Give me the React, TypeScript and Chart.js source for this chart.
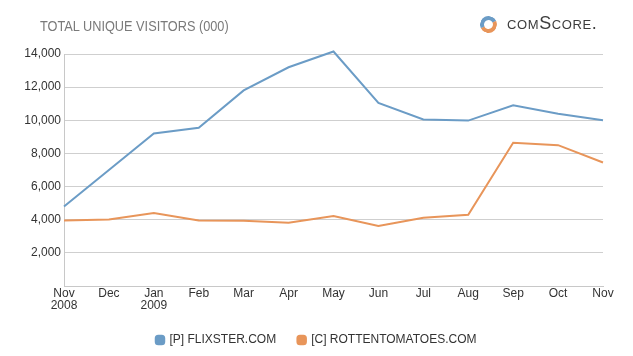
import React, { useEffect, useRef } from "react";
import { Chart, registerables } from "chart.js";

Chart.register(...registerables);

const months = [["Nov", "2008"], "Dec", ["Jan", "2009"], "Feb", "Mar", "Apr", "May", "Jun", "Jul", "Aug", "Sep", "Oct", "Nov"];
const flixster = [4800, 7000, 9200, 9550, 11800, 13200, 14150, 11050, 10050, 9980, 10900, 10400, 10000];
const rottenTomatoes = [3950, 4020, 4400, 3960, 3940, 3820, 4230, 3620, 4120, 4300, 8650, 8500, 7450];
const yTicks = [2000, 4000, 6000, 8000, 10000, 12000, 14000];
const seriesNames = ["[P] FLIXSTER.COM", "[C] ROTTENTOMATOES.COM"];

const BLUE = "#6b9cc6";
const ORANGE = "#e8955a";
const FONT = "Liberation Sans, Arial";

export default function App() {
  const ref = useRef<HTMLCanvasElement | null>(null);
  useEffect(() => {
    document.body.style.margin = "0";
    const chart = new Chart(ref.current!, {
      type: "line",
      data: {
        labels: months as any,
        datasets: [
          { label: seriesNames[0], data: flixster, borderColor: BLUE, backgroundColor: BLUE, borderWidth: 2, pointRadius: 0, tension: 0, yAxisID: "y" },
          { label: seriesNames[1], data: rottenTomatoes, borderColor: ORANGE, backgroundColor: ORANGE, borderWidth: 2, pointRadius: 0, tension: 0, yAxisID: "y" },
        ],
      },
      options: {
        animation: false,
        responsive: false,
        clip: false as any,
        layout: { padding: { top: 54, right: 0, left: 0, bottom: 0 } },
        plugins: {
          tooltip: { enabled: false },
          legend: {
            position: "bottom",
            labels: {
              usePointStyle: true,
              pointStyle: "rectRounded",
              boxWidth: 7,
              boxHeight: 7,
              padding: 22,
              color: "#333",
              font: { family: FONT, size: 12 },
            },
          },
        },
        scales: {
          x: {
            grid: { display: false, drawTicks: false },
            border: { display: true, color: "#c8c8c8", width: 1 },
            ticks: {
              color: "#333",
              padding: 2,
              maxRotation: 0,
              autoSkip: false,
              font: { family: FONT, size: 12, lineHeight: 1.0 },
            },
            afterFit: (s: any) => { s.height = 26; },
          },
          y: {
            min: 0,
            max: 14000,
            afterBuildTicks: (s: any) => { s.ticks = yTicks.map((v) => ({ value: v })); },
            grid: { color: "#cfcfcf", drawTicks: false, lineWidth: 1 },
            border: { display: true, color: "#c8c8c8", width: 1 },
            ticks: {
              color: "#333",
              padding: 3,
              font: { family: FONT, size: 12 },
              callback: (v: any) => Number(v).toLocaleString("en-US"),
            },
            afterFit: (s: any) => { s.width = 64; },
          },
          yRight: {
            position: "right",
            min: 0,
            max: 14000,
            grid: { display: false, drawTicks: false },
            border: { display: false },
            ticks: { display: false },
            afterFit: (s: any) => { s.width = 30; },
          },
        },
      },
    });
    return () => chart.destroy();
  }, []);

  return (
    <div style={{ position: "relative", width: 633, height: 356, background: "#fff" }}>
      <canvas ref={ref} width={633} height={356} style={{ position: "absolute", left: 0, top: 0 }} />
      <div style={{ position: "absolute", left: 40, top: 17, fontFamily: FONT, fontSize: 15, lineHeight: "17px", color: "#7a7a7a", whiteSpace: "nowrap", transform: "scaleX(0.85)", transformOrigin: "0 0" }}>
        TOTAL UNIQUE VISITORS (000)
      </div>
      <div style={{ position: "absolute", left: 480, top: 16, width: 19, height: 17 }}>
        <div style={{ width: 9, height: 9, borderRadius: "50%", border: "4px solid", borderColor: `${BLUE} ${ORANGE} ${ORANGE} ${BLUE}`, boxSizing: "content-box", transform: "rotate(20deg)" }} />
      </div>
      <div style={{ position: "absolute", left: 507, top: 12, fontFamily: FONT, fontSize: 18, lineHeight: "22px", color: "#3d3d3d", fontVariant: "small-caps", letterSpacing: 0.6, whiteSpace: "nowrap" }}>
        comScore.
      </div>
    </div>
  );
}
